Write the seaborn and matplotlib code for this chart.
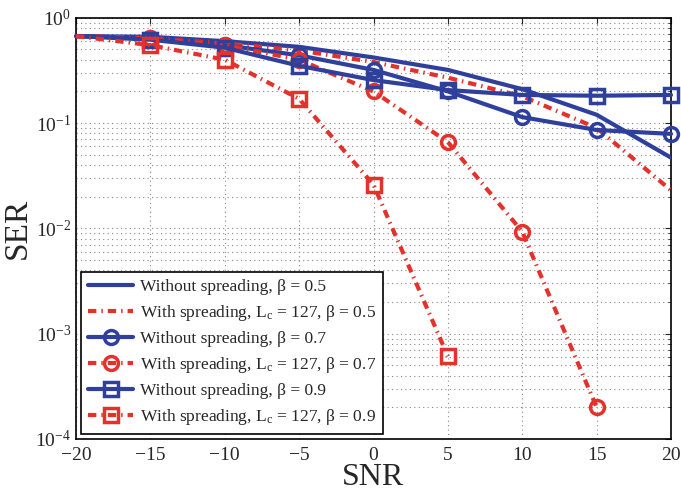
import numpy as np
import pandas as pd
import matplotlib
matplotlib.use("Agg")
import matplotlib.pyplot as plt
import seaborn as sns
from matplotlib.ticker import LogLocator, NullFormatter

snr = [-20, -15, -10, -5, 0, 5, 10, 15, 20]
ser_wo_05 = [0.67, 0.66, 0.60, 0.53, 0.42, 0.32, 0.21, 0.12, 0.047]
ser_w_05 = [0.67, 0.64, 0.57, 0.49, 0.38, 0.27, 0.18, 0.09, 0.023]
ser_wo_07 = [0.67, 0.64, 0.55, 0.44, 0.32, 0.20, 0.114, 0.086, 0.079]
ser_w_07 = [0.67, 0.64, 0.55, 0.40, 0.20, 0.066, 0.0093, 0.0002]
ser_wo_09 = [0.67, 0.62, 0.52, 0.35, 0.256, 0.206, 0.185, 0.182, 0.185]
ser_w_09 = [0.67, 0.55, 0.40, 0.17, 0.026, 0.00061]

labels = [
    "Without spreading, β = 0.5",
    "With spreading, L$_\\mathregular{c}$ = 127, β = 0.5",
    "Without spreading, β = 0.7",
    "With spreading, L$_\\mathregular{c}$ = 127, β = 0.7",
    "Without spreading, β = 0.9",
    "With spreading, L$_\\mathregular{c}$ = 127, β = 0.9",
]
series = [ser_wo_05, ser_w_05, ser_wo_07, ser_w_07, ser_wo_09, ser_w_09]

sns.set_style("white")
plt.rcParams["font.family"] = ["Liberation Serif", "DejaVu Serif"]
plt.rcParams["mathtext.fontset"] = "stix"

blue = "#2f3f9c"
red = "#e4312b"
dashdot = (0, (2.0, 1.2, 0.35, 1.2))
styles = [
    dict(color=blue, ls="-", marker=None),
    dict(color=red, ls=dashdot, marker=None),
    dict(color=blue, ls="-", marker="o"),
    dict(color=red, ls=dashdot, marker="o"),
    dict(color=blue, ls="-", marker="s"),
    dict(color=red, ls=dashdot, marker="s"),
]

fig = plt.figure(figsize=(6.81, 4.92), dpi=100)
ax = fig.add_axes([76 / 681, 1 - 439 / 492, 595 / 681, (439 - 17.8) / 492])

for lab, vals, st in zip(labels, series, styles):
    df = pd.DataFrame({"SNR": snr[:len(vals)], "SER": vals})
    sns.lineplot(data=df, x="SNR", y="SER", ax=ax, color=st["color"],
                 linewidth=3, label=lab, zorder=3)
    line = ax.lines[-1]
    line.set_linestyle(st["ls"])
    if st["marker"]:
        line.set_clip_on(False)
        line.set_marker(st["marker"])
        line.set_markevery(slice(1, None))
        line.set_markersize(10 if st["marker"] == "o" else 9.5)
        line.set_markerfacecolor("none")
        line.set_markeredgewidth(2.5)
        line.set_markeredgecolor(st["color"])

ax.set_yscale("log")
ax.set_xlim(-20, 20)
ax.set_ylim(1e-4, 1)
ax.set_xticks([-20, -15, -10, -5, 0, 5, 10, 15, 20])
ax.yaxis.set_major_locator(LogLocator(base=10, numticks=10))
ax.yaxis.set_minor_locator(LogLocator(base=10, subs=np.arange(2, 10), numticks=20))
ax.yaxis.set_minor_formatter(NullFormatter())

ax.grid(True, which="major", axis="both", color="#888888", linestyle=(0, (1, 3)), linewidth=0.8)
ax.grid(True, which="minor", axis="y", color="#888888", linestyle=(0, (1, 3)), linewidth=0.8)
ax.set_axisbelow(True)

ax.tick_params(direction="in", which="both", top=True, right=True, labelsize=14, length=4)
ax.tick_params(axis="x", pad=6)
ax.tick_params(which="minor", length=2)
for sp in ax.spines.values():
    sp.set_linewidth(1.2)
    sp.set_color("black")

ax.set_xlabel("SNR", fontsize=23, labelpad=-1)
ax.set_ylabel("SER", fontsize=24, labelpad=2)

leg = ax.legend(loc="lower left", fontsize=12.5, frameon=True, fancybox=False,
                edgecolor="black", framealpha=1, handlelength=2.6,
                borderaxespad=0.3, labelspacing=0.45, handletextpad=0.4,
                borderpad=0.4)
leg.get_frame().set_linewidth(1.2)

fig.savefig("out.png", dpi=100)
